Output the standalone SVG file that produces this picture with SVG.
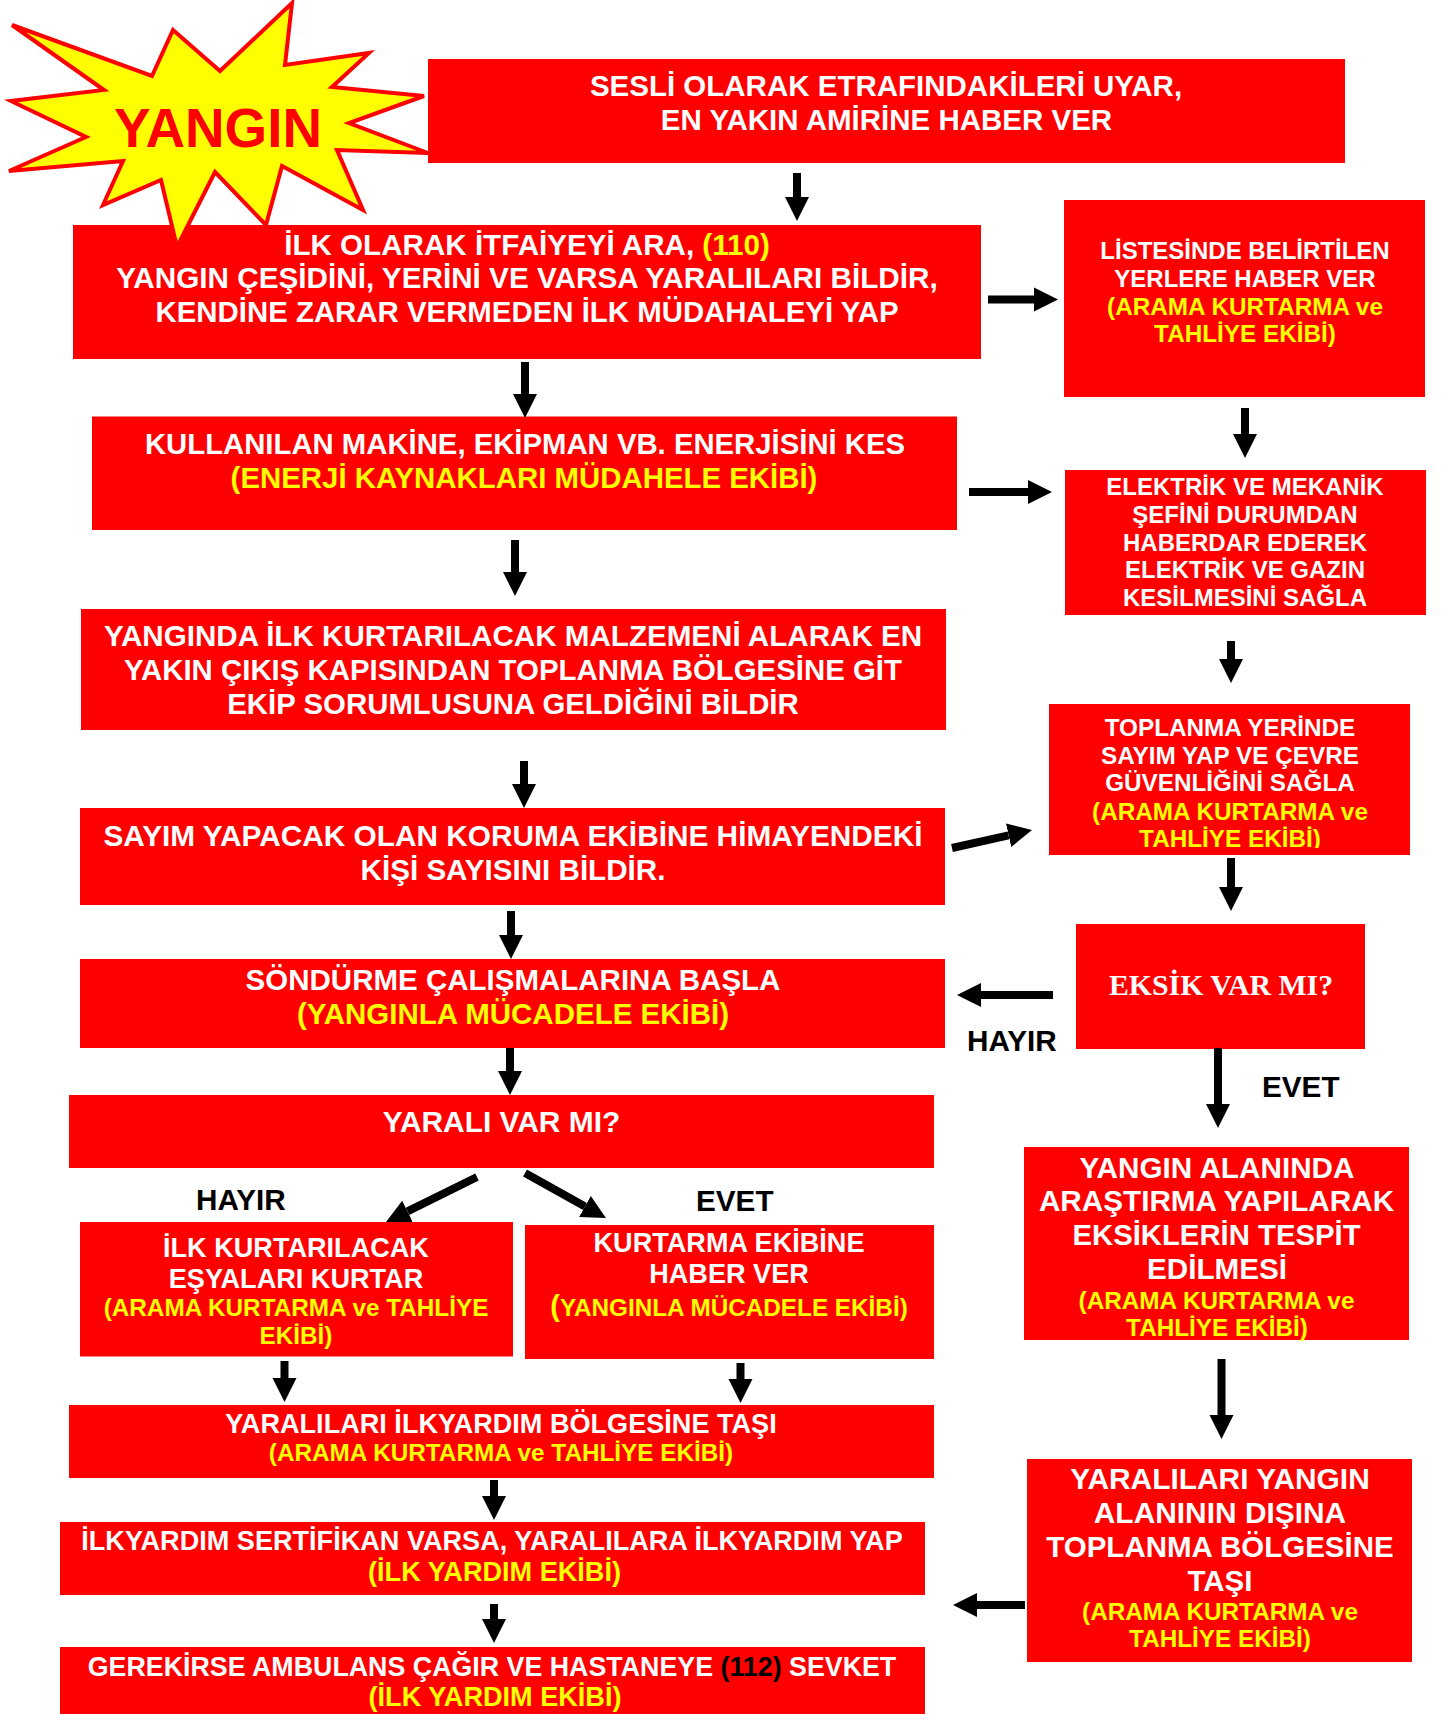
<svg xmlns="http://www.w3.org/2000/svg" width="1443" height="1714" viewBox="0 0 1443 1714">
<style>
.b{fill:#ff0000}
text{font-family:"Liberation Sans",Arial,sans-serif;font-weight:700;text-anchor:middle;fill:#fff}
.y{fill:#ffff00}
.k{fill:#000}
.f29{font-size:29.5px}
.f27{font-size:27.1px}
.f24{font-size:24.3px}
.c{stroke:#000;stroke-width:8;fill:none;marker-end:url(#h)}
.l{fill:#000;text-anchor:start;font-size:29.7px}
</style>
<defs>
<marker id="h" markerUnits="userSpaceOnUse" markerWidth="26" markerHeight="26" refX="0" refY="13" orient="auto"><path d="M0 1L24 13L0 25Z" fill="#000"/></marker>
<clipPath id="cl3"><rect x="1049" y="704" width="361" height="144"/></clipPath>
</defs>
<g id="n-r1"><rect class="b" x="428" y="59" width="917" height="104"/><text class="f29" x="886" y="95.5">SESLİ OLARAK ETRAFINDAKİLERİ UYAR,</text><text class="f29" x="886.5" y="130">EN YAKIN AMİRİNE HABER VER</text></g>
<g id="n-r2"><rect class="b" x="73" y="225" width="908" height="134"/><text style="font-size:29.6px" x="527" y="255">İLK OLARAK İTFAİYEYİ ARA, <tspan class="y">(110)</tspan></text><text style="font-size:29.7px" x="527" y="288">YANGIN ÇEŞİDİNİ, YERİNİ VE VARSA YARALILARI BİLDİR,</text><text style="font-size:29.4px" x="527" y="322">KENDİNE ZARAR VERMEDEN İLK MÜDAHALEYİ YAP</text></g>
<g id="n-r3"><rect class="b" x="92" y="416.5" width="865" height="113.5"/><text style="font-size:29.3px" x="525" y="454">KULLANILAN MAKİNE, EKİPMAN VB. ENERJİSİNİ KES</text><text class="y" style="font-size:29.4px" x="524" y="488">(ENERJİ KAYNAKLARI MÜDAHELE EKİBİ)</text></g>
<g id="n-r4"><rect class="b" x="81" y="609" width="865" height="121"/><text style="font-size:29.6px" x="513" y="646">YANGINDA İLK KURTARILACAK MALZEMENİ ALARAK EN</text><text style="font-size:29.4px" x="513" y="680">YAKIN ÇIKIŞ KAPISINDAN TOPLANMA BÖLGESİNE GİT</text><text style="font-size:29.4px" x="513" y="714">EKİP SORUMLUSUNA GELDİĞİNİ BİLDİR</text></g>
<g id="n-r5"><rect class="b" x="80" y="808" width="865" height="97"/><text style="font-size:29.8px" x="513" y="846">SAYIM YAPACAK OLAN KORUMA EKİBİNE HİMAYENDEKİ</text><text style="font-size:29.6px" x="513" y="880">KİŞİ SAYISINI BİLDİR.</text></g>
<g id="n-r6"><rect class="b" x="80" y="959" width="865" height="89"/><text class="f29" x="513" y="990">SÖNDÜRME ÇALIŞMALARINA BAŞLA</text><text class="f29 y" x="513" y="1024">(YANGINLA MÜCADELE EKİBİ)</text></g>
<g id="n-r7"><rect class="b" x="69" y="1095" width="865" height="73"/><text style="font-size:29.9px" x="501.5" y="1132">YARALI VAR MI?</text></g>
<g id="n-r8"><rect class="b" x="80" y="1222" width="433" height="134.5"/><text class="f27" x="296" y="1257">İLK KURTARILACAK</text><text class="f27" x="296" y="1288">EŞYALARI KURTAR</text><text class="f24 y" x="296" y="1316">(ARAMA KURTARMA ve TAHLİYE</text><text class="f24 y" x="296" y="1344">EKİBİ)</text></g>
<g id="n-r9"><rect class="b" x="525" y="1225" width="409" height="134"/><text class="f27" x="729" y="1252">KURTARMA EKİBİNE</text><text class="f27" x="729" y="1283">HABER VER</text><text class="f24 y" x="729" y="1316"><tspan style="font-size:29px">(</tspan>YANGINLA MÜCADELE EKİBİ)</text></g>
<g id="n-r10"><rect class="b" x="69" y="1405" width="865" height="73"/><text class="f27" x="501" y="1433">YARALILARI İLKYARDIM BÖLGESİNE TAŞI</text><text class="f24 y" x="501" y="1461">(ARAMA KURTARMA ve TAHLİYE EKİBİ)</text></g>
<g id="n-r11"><rect class="b" x="60" y="1522" width="865" height="73"/><text class="f27" x="492" y="1550">İLKYARDIM SERTİFİKAN VARSA, YARALILARA İLKYARDIM YAP</text><text class="f27 y" x="494.5" y="1581">(İLK YARDIM EKİBİ)</text></g>
<g id="n-r12"><rect class="b" x="60" y="1647" width="865" height="67"/><text style="font-size:26.8px" x="492" y="1675.5">GEREKİRSE AMBULANS ÇAĞIR VE HASTANEYE <tspan class="k">(112)</tspan> SEVKET</text><text class="f27 y" x="495" y="1706">(İLK YARDIM EKİBİ)</text></g>
<g id="n-l1"><rect class="b" x="1064" y="200" width="361" height="197"/><text style="font-size:24px" x="1245" y="259">LİSTESİNDE BELİRTİLEN</text><text style="font-size:24px" x="1245" y="287">YERLERE HABER VER</text><text class="f24 y" x="1245" y="315">(ARAMA KURTARMA ve</text><text class="f24 y" x="1245" y="342">TAHLİYE EKİBİ)</text></g>
<g id="n-l2"><rect class="b" x="1065" y="470" width="361" height="145"/><text style="font-size:24px" x="1245" y="495">ELEKTRİK VE MEKANİK</text><text style="font-size:24px" x="1245" y="523">ŞEFİNİ DURUMDAN</text><text style="font-size:24px" x="1245" y="551">HABERDAR EDEREK</text><text style="font-size:24px" x="1245" y="578">ELEKTRİK VE GAZIN</text><text style="font-size:24px" x="1245" y="606">KESİLMESİNİ SAĞLA</text></g>
<g id="n-l3"><rect class="b" x="1049" y="704" width="361" height="151"/><g clip-path="url(#cl3)"><text class="f24" x="1230" y="736">TOPLANMA YERİNDE</text><text class="f24" x="1230" y="764">SAYIM YAP VE ÇEVRE</text><text class="f24" x="1230" y="791">GÜVENLİĞİNİ SAĞLA</text><text class="f24 y" x="1230" y="819.5">(ARAMA KURTARMA ve</text><text class="f24 y" x="1230" y="847">TAHLİYE EKİBİ)</text></g></g>
<g id="n-l4"><rect class="b" x="1076" y="924" width="289" height="125"/><text style="font-family:'Liberation Serif',serif;font-size:29.8px" x="1221" y="995">EKSİK VAR MI?</text></g>
<g id="n-l5"><rect class="b" x="1024" y="1147" width="385" height="193"/><text style="font-size:29.7px" x="1217" y="1178">YANGIN ALANINDA</text><text style="font-size:29.7px" x="1216.5" y="1211">ARAŞTIRMA YAPILARAK</text><text style="font-size:29.3px" x="1216.5" y="1245">EKSİKLERİN TESPİT</text><text style="font-size:29.7px" x="1217" y="1279">EDİLMESİ</text><text class="f24 y" x="1216.5" y="1309">(ARAMA KURTARMA ve</text><text class="f24 y" x="1217" y="1336">TAHLİYE EKİBİ)</text></g>
<g id="n-l6"><rect class="b" x="1027" y="1459" width="385" height="203"/><text style="font-size:29.9px" x="1220" y="1489">YARALILARI YANGIN</text><text style="font-size:29.9px" x="1220" y="1523">ALANININ DIŞINA</text><text class="f29" x="1220" y="1557">TOPLANMA BÖLGESİNE</text><text class="f29" x="1220" y="1591">TAŞI</text><text class="f24 y" x="1220" y="1620">(ARAMA KURTARMA ve</text><text class="f24 y" x="1220" y="1647">TAHLİYE EKİBİ)</text></g>
<g id="n-star"><polygon points="12,25 152,76 173,30 220,71 292,3 285,65 369,53 332,87 424,96 349,123 428,153 337,150 363,210 282,166 266,225 215,172 177,247 161,180 103,205 123,161 9,171 86,137 11,101 104,90" fill="#ffff00" stroke="#ff0000" stroke-width="4"/><text x="218" y="147" style="font-size:54.8px;fill:#ff0000">YANGIN</text></g>
<g id="connectors">
<line class="c" x1="797" y1="173" x2="797" y2="197"/>
<line class="c" x1="988" y1="299.500" x2="1034" y2="299.500"/>
<line class="c" x1="525" y1="362" x2="525" y2="394"/>
<line class="c" x1="1245" y1="408" x2="1245" y2="434"/>
<line class="c" x1="969" y1="492" x2="1028" y2="492"/>
<line class="c" x1="515" y1="540" x2="515" y2="572"/>
<line class="c" x1="1231" y1="641" x2="1231" y2="659"/>
<line class="c" x1="524" y1="761" x2="524" y2="784"/>
<line class="c" x1="952" y1="848" x2="1008.6" y2="835.3"/>
<line class="c" x1="1231" y1="858" x2="1231" y2="887"/>
<line class="c" x1="511" y1="911" x2="511" y2="935"/>
<line class="c" x1="1053" y1="995" x2="981" y2="995"/>
<line class="c" x1="1218" y1="1048" x2="1218" y2="1104"/>
<line class="c" x1="510" y1="1048" x2="510" y2="1071"/>
<line class="c" x1="477" y1="1177" x2="407.5" y2="1211.4"/>
<line class="c" x1="525" y1="1173" x2="585" y2="1206.4"/>
<line class="c" x1="284.500" y1="1361" x2="284.500" y2="1378"/>
<line class="c" x1="740.500" y1="1363" x2="740.500" y2="1379"/>
<line class="c" x1="494" y1="1480" x2="494" y2="1496"/>
<line class="c" x1="494" y1="1604" x2="494" y2="1619"/>
<line class="c" x1="1221.500" y1="1359" x2="1221.500" y2="1415"/>
<line class="c" x1="1025" y1="1605" x2="977" y2="1605"/>
</g>
<text class="l" x="967" y="1051">HAYIR</text>
<text class="l" x="1262" y="1097">EVET</text>
<text class="l" x="196" y="1210">HAYIR</text>
<text class="l" x="696" y="1211">EVET</text>
</svg>
